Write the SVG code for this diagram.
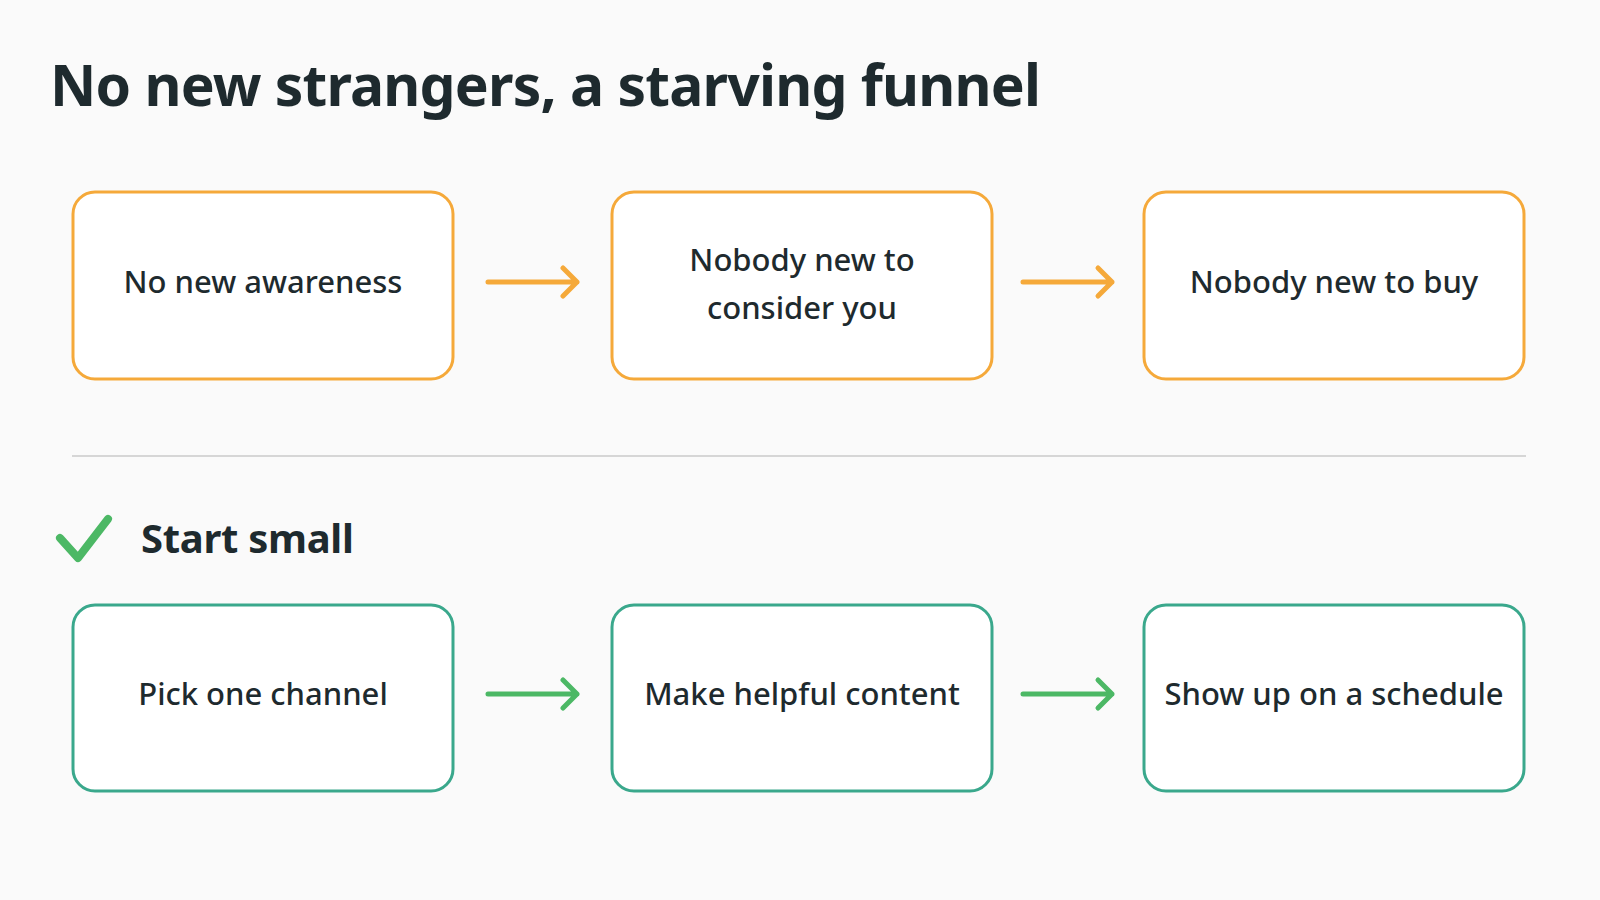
<svg xmlns="http://www.w3.org/2000/svg" width="1600" height="900" viewBox="0 0 1600 900">
<defs>
<style>
.t{font-family:"Noto Sans","Open Sans","Liberation Sans",sans-serif;fill:#1e2a2e}
.nt{font-size:31px;font-weight:500;text-anchor:middle}
.bo{fill:#fff;stroke:#f5a93a;stroke-width:3}
.bg{fill:#fff;stroke:#3aa88c;stroke-width:3}
.ao{stroke:#f5a93a;stroke-width:5;fill:none;stroke-linecap:round;stroke-linejoin:round}
.ag{stroke:#4cb865;stroke-width:5;fill:none;stroke-linecap:round;stroke-linejoin:round}
</style>
</defs>
<rect width="1600" height="900" fill="#fafafa"/>
<text class="t" x="50" y="106" font-size="57" font-weight="700" letter-spacing="-0.8">No new strangers, a starving funnel</text>
<g id="n1"><rect class="bo" x="73" y="192" width="380" height="187" rx="22"/><text class="t nt" x="263" y="293">No new awareness</text></g>
<g id="n2"><rect class="bo" x="612" y="192" width="380" height="187" rx="22"/><text class="t nt" x="802" y="271">Nobody new to</text><text class="t nt" x="802" y="319">consider you</text></g>
<g id="n3"><rect class="bo" x="1144" y="192" width="380" height="187" rx="22"/><text class="t nt" x="1334" y="293">Nobody new to buy</text></g>
<line x1="72" y1="456" x2="1526" y2="456" stroke="#d6d6d6" stroke-width="2"/>
<g id="start"><path d="M60 538 L78 558 L108 519" stroke="#4cb865" stroke-width="8" fill="none" stroke-linecap="round" stroke-linejoin="round"/><text class="t" x="141" y="553" font-size="40" font-weight="700" letter-spacing="-0.3">Start small</text></g>
<g id="n4"><rect class="bg" x="73" y="605" width="380" height="186" rx="22"/><text class="t nt" x="263" y="705">Pick one channel</text></g>
<g id="n5"><rect class="bg" x="612" y="605" width="380" height="186" rx="22"/><text class="t nt" x="802" y="705">Make helpful content</text></g>
<g id="n6"><rect class="bg" x="1144" y="605" width="380" height="186" rx="22"/><text class="t nt" x="1334" y="705">Show up on a schedule</text></g>
<g id="connectors">
<path class="ao" d="M488 282 H577 M563 268 L577 282 L563 296"/>
<path class="ao" d="M1023 282 H1112 M1098 268 L1112 282 L1098 296"/>
<path class="ag" d="M488 694 H577 M563 680 L577 694 L563 708"/>
<path class="ag" d="M1023 694 H1112 M1098 680 L1112 694 L1098 708"/>
</g>
</svg>
